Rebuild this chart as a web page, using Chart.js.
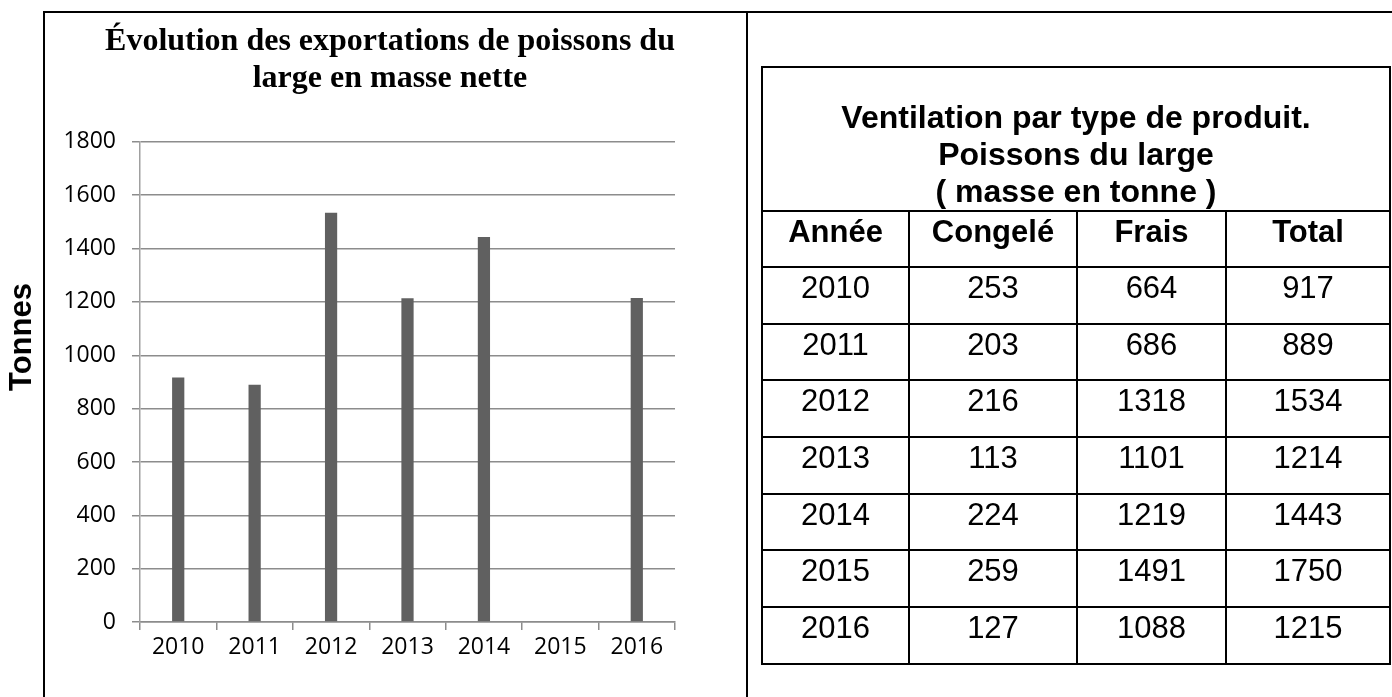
<!DOCTYPE html>
<html>
<head>
<meta charset="utf-8">
<script src="https://cdn.jsdelivr.net/npm/chart.js@4.4.1/dist/chart.umd.min.js"></script>
<style>
  html, body { margin: 0; padding: 0; background: #fff; }
  body { width: 1392px; height: 697px; position: relative; overflow: hidden; }
  #frame { position: absolute; left: 43px; top: 11px; width: 1400px; height: 800px;
           border-top: 2px solid #000; border-left: 2px solid #000; }
  #divider { position: absolute; left: 746px; top: 11px; width: 2px; height: 800px; background: #000; }
  #myChart { position: absolute; left: 0; top: 0; }
  #tableau { position: absolute; left: 761px; top: 66px; width: 628px;
             border-collapse: collapse; table-layout: fixed;
             font-family: "Liberation Sans", Arial, sans-serif; font-size: 31px; color: #000; }
  #tableau td, #tableau th { border: 2px solid #000; padding: 0; text-align: center;
             vertical-align: top; line-height: 40px; }
  #tableau th { font-weight: bold; }
  #tableau th.titre { vertical-align: bottom; line-height: 37px; font-size: 32px; }
</style>
</head>
<body>
<div id="frame"></div>
<div id="divider"></div>
<canvas id="myChart" width="780" height="697"></canvas>
<table id="tableau">
  <colgroup>
    <col style="width:147px"><col style="width:168px"><col style="width:149px"><col style="width:164px">
  </colgroup>
  <thead>
    <tr style="height:144px"><th class="titre" colspan="4">Ventilation par type de produit.<br>Poissons du large<br>( masse en tonne )</th></tr>
    <tr style="height:56px" id="entetes"></tr>
  </thead>
  <tbody id="lignes"></tbody>
</table>
<script>
// valeurs du tableau
var annees = ['2010', '2011', '2012', '2013', '2014', '2015', '2016'];
var congele = [253, 203, 216, 113, 224, 259, 127];
var frais = [664, 686, 1318, 1101, 1219, 1491, 1088];
var total = [917, 889, 1534, 1214, 1443, 1750, 1215];
var colonnes = ['Année', 'Congelé', 'Frais', 'Total'];

// valeurs du graphique (2015 absent du graphique)
var totauxGraphique = [917, 889, 1534, 1214, 1443, null, 1215];

var entetes = document.getElementById('entetes');
colonnes.forEach(function (c) {
  var th = document.createElement('th');
  th.textContent = c;
  entetes.appendChild(th);
});
var lignes = document.getElementById('lignes');
annees.forEach(function (a, i) {
  var tr = document.createElement('tr');
  tr.style.height = '56.7px';
  [a, congele[i], frais[i], total[i]].forEach(function (v) {
    var td = document.createElement('td');
    td.textContent = v;
    tr.appendChild(td);
  });
  lignes.appendChild(tr);
});

var gris = '#8c8c8c';
var tickFont = { family: '"Open Sans", sans-serif', size: 23 };

// "Tonnes" written outside the framed box
var labelTonnes = {
  id: 'labelTonnes',
  afterDraw: function (chart) {
    var c = chart.ctx;
    c.save();
    c.translate(22, 337);
    c.rotate(-Math.PI / 2);
    c.font = 'bold 31px "Liberation Sans", Arial, sans-serif';
    c.fillStyle = '#000';
    c.textAlign = 'center';
    c.textBaseline = 'middle';
    c.fillText('Tonnes', 0, 0);
    c.restore();
  }
};

var ctx = document.getElementById('myChart').getContext('2d');
var myChart = new Chart(ctx, {
  type: 'bar',
  data: {
    labels: annees,
    datasets: [{
      data: totauxGraphique,
      label: 'Total',
      backgroundColor: '#606060',
      borderWidth: 0,
      barPercentage: 0.16,
      categoryPercentage: 1
    }]
  },
  plugins: [labelTonnes],
  options: {
    responsive: false,
    animation: false,
    devicePixelRatio: 1,
    layout: { padding: 0 },
    plugins: {
      legend: { display: false },
      tooltip: { enabled: false },
      title: {
        display: true,
        text: ['Évolution des exportations de poissons du', 'large en masse nette'],
        color: '#000',
        font: { family: '"Liberation Serif", "Times New Roman", serif', size: 32, weight: 'bold', lineHeight: 1.17 },
        padding: { top: 23, bottom: 44 }
      }
    },
    scales: {
      x: {
        grid: { display: true, drawOnChartArea: false, drawTicks: true, tickLength: 8, color: gris, lineWidth: 1.5 },
        border: { display: true, color: gris, width: 1.5 },
        ticks: { color: '#000', font: tickFont, padding: 4, maxRotation: 0 },
        afterFit: function (scale) { scale.height = 75; }
      },
      y: {
        min: 0,
        max: 1800,
        ticks: {
          stepSize: 200, color: '#000', font: tickFont, padding: 16,
          callback: function (v) { return String(v); }
        },
        grid: { color: gris, lineWidth: 1.5, tickLength: 8 },
        border: { display: true, color: '#a0a0a0', width: 1.5 },
        afterFit: function (scale) { scale.width = 140; }
      },
      y2: {
        position: 'right',
        display: true,
        grid: { display: false },
        border: { display: false },
        ticks: { display: false },
        afterFit: function (scale) { scale.width = 105; }
      }
    }
  }
});
</script>
</body>
</html>
